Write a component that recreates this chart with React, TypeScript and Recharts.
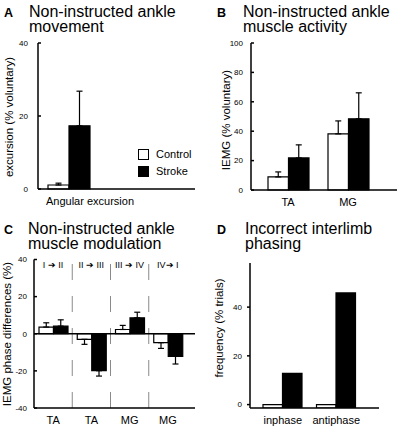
import React from "react";
import {
  Bar,
  BarChart,
  ErrorBar,
  Legend,
  Rectangle,
  ReferenceArea,
  ReferenceLine,
  XAxis,
  YAxis,
} from "recharts";

const FONT = '"Liberation Sans", Arial, Helvetica, sans-serif';
const INK = "#000";

// A: non-instructed ankle movement (% voluntary)
const excursionCategories = ["Angular excursion"];
const excursionControl = [1.1];
const excursionControlErr = [0.5];
const excursionStroke = [17.3];
const excursionStrokeErr = [9.5];
const excursionTicks = [0, 20, 40];

// B: non-instructed ankle muscle activity (IEMG % voluntary)
const activityCategories = ["TA", "MG"];
const activityControl = [8.9, 38.2];
const activityControlErr = [3.4, 8.8];
const activityStroke = [21.8, 48.4];
const activityStrokeErr = [8.9, 17.7];
const activityTicks = [0, 20, 40, 60, 80, 100];

// C: muscle modulation, IEMG phase differences (%)
const modulationMuscles = ["TA", "TA", "MG", "MG"];
const modulationPhases = ["I ➔ II", "II ➔ III", "III ➔ IV", "IV➔ I"];
const modulationControl = [3.6, -3.0, 2.3, -4.8];
const modulationControlErr = [2.3, 2.7, 2.2, 3.1];
const modulationStroke = [4.1, -19.9, 8.6, -12.2];
const modulationStrokeErr = [3.4, 2.9, 3.0, 4.1];
const modulationTicks = [-40, -20, 0, 20, 40];

// D: incorrect interlimb phasing, frequency (% trials)
const phasingCategories = ["inphase", "antiphase"];
const phasingControl = [0, 0];
const phasingStroke = [12.8, 45.8];
const phasingTicks = [0, 20, 40];
const phasingDomain = [-1.4, 58.1];

// error bars only point away from zero
const oneSided = (v: number, e: number) => (v >= 0 ? [0, e] : [e, 0]);

const excursionData = excursionCategories.map((name, i) => ({
  name,
  control: excursionControl[i],
  controlErr: oneSided(excursionControl[i], excursionControlErr[i]),
  stroke: excursionStroke[i],
  strokeErr: oneSided(excursionStroke[i], excursionStrokeErr[i]),
}));

const activityData = activityCategories.map((name, i) => ({
  name,
  control: activityControl[i],
  controlErr: oneSided(activityControl[i], activityControlErr[i]),
  stroke: activityStroke[i],
  strokeErr: oneSided(activityStroke[i], activityStrokeErr[i]),
}));

const modulationData = modulationMuscles.map((muscle, i) => ({
  key: `c${i}`,
  muscle,
  control: modulationControl[i],
  controlErr: oneSided(modulationControl[i], modulationControlErr[i]),
  stroke: modulationStroke[i],
  strokeErr: oneSided(modulationStroke[i], modulationStrokeErr[i]),
}));

// bars in D rise from the bottom of the axis, not from zero
const phasingData = phasingCategories.map((name, i) => ({
  name,
  control: [phasingDomain[0], phasingControl[i]],
  stroke: [phasingDomain[0], phasingStroke[i]],
}));

const axisLine = { stroke: INK, strokeWidth: 1.5 };
const yTick = { fontSize: 8, fill: INK };
const xTick = { fontSize: 11, fill: INK };

function GroupLegend({ payload }: { payload?: any[] }) {
  return (
    <div style={{ fontFamily: FONT, fontSize: 11, color: INK }}>
      {(payload || []).map((entry) => (
        <div key={entry.value} style={{ display: "flex", alignItems: "center", height: 16, marginBottom: 1 }}>
          <span
            style={{
              width: 9,
              height: 9,
              border: `1.2px solid ${INK}`,
              background: entry.color,
              marginRight: 7,
            }}
          />
          <span>{entry.value}</span>
        </div>
      ))}
    </div>
  );
}

const outlined = (fill: string) => (p: any) => (
  <Rectangle x={p.x} y={p.y} width={p.width} height={p.height} fill={fill} stroke={INK} strokeWidth={1.2} />
);

function Bars({ size, errors = true }: { size: number; errors?: boolean }) {
  return [
    <Bar key="c" dataKey="control" name="Control" fill="#fff" barSize={size} shape={outlined("#fff")} isAnimationActive={false}>
      {errors && <ErrorBar dataKey="controlErr" width={3} stroke={INK} strokeWidth={1.2} />}
    </Bar>,
    <Bar key="s" dataKey="stroke" name="Stroke" fill={INK} barSize={size} shape={outlined(INK)} isAnimationActive={false}>
      {errors && <ErrorBar dataKey="strokeErr" width={3} stroke={INK} strokeWidth={1.2} />}
    </Bar>,
  ];
}

function Titles() {
  const big = { fontSize: 16, fill: INK };
  const letter = { fontSize: 12.5, fontWeight: 700, fill: INK };
  const ylab = { fontSize: 11.5, fill: INK, textAnchor: "middle" as const, dominantBaseline: "central" as const };
  return (
    <svg width={401} height={426} style={{ position: "absolute", left: 0, top: 0, pointerEvents: "none", fontFamily: FONT }}>
      <text x={4} y={17} {...letter}>A</text>
      <text x={29} y={17} {...big}>Non-instructed ankle</text>
      <text x={29} y={32} {...big}>movement</text>
      <text x={217} y={17} {...letter}>B</text>
      <text x={243} y={17} {...big}>Non-instructed ankle</text>
      <text x={243} y={32} {...big}>muscle activity</text>
      <text x={4} y={234} {...letter}>C</text>
      <text x={28} y={234} {...big}>Non-instructed ankle</text>
      <text x={28} y={249} {...big}>muscle modulation</text>
      <text x={217} y={234} {...letter}>D</text>
      <text x={245} y={234} {...big}>Incorrect interlimb</text>
      <text x={245} y={249} {...big}>phasing</text>

      <text transform="translate(9,117) rotate(-90)" {...ylab}>excursion (% voluntary)</text>
      <text transform="translate(226,120) rotate(-90)" {...ylab}>IEMG (% voluntary)</text>
      <text transform="translate(7,334) rotate(-90)" {...ylab}>IEMG phase differences (%)</text>
      <text transform="translate(219,328) rotate(-90)" {...ylab}>frequency (% trials)</text>
    </svg>
  );
}

export default function App() {
  return (
    <div style={{ position: "absolute", left: 0, top: 0, width: 401, height: 426, background: "#fff", fontFamily: FONT }}>
      <div style={{ position: "absolute", left: 0, top: 0 }}>
        <BarChart width={200} height={210} data={excursionData} barGap={0} margin={{ top: 43, right: 5, bottom: 0, left: 0 }}>
          <XAxis dataKey="name" height={21} axisLine={axisLine} tickLine={false} tick={{ ...xTick, dx: 21 }} padding={{ left: 5, right: 100 }} />
          <YAxis width={38} domain={[0, 40]} ticks={excursionTicks} axisLine={axisLine} tickLine={axisLine} tickSize={-3} tickMargin={13} tick={yTick} />
          {Bars({ size: 21 })}
          <Legend layout="vertical" align="center" verticalAlign="middle" content={<GroupLegend />} wrapperStyle={{ left: 138, top: 146, width: 62 }} />
        </BarChart>
      </div>

      <div style={{ position: "absolute", left: 200, top: 0 }}>
        <BarChart width={201} height={210} data={activityData} barGap={0} margin={{ top: 43, right: 4, bottom: 0, left: 0 }}>
          <XAxis dataKey="name" height={20} axisLine={axisLine} tickLine={false} tick={xTick} padding={{ left: 7, right: 19 }} />
          <YAxis width={51} domain={[0, 100]} ticks={activityTicks} axisLine={axisLine} tickLine={axisLine} tickSize={-3} tickMargin={11} tick={yTick} />
          {Bars({ size: 20.5 })}
        </BarChart>
      </div>

      <div style={{ position: "absolute", left: 0, top: 210 }}>
        <BarChart width={200} height={216} data={modulationData} barGap={0} margin={{ top: 49.5, right: 5, bottom: 0, left: 0 }}>
          <XAxis dataKey="key" height={18} axisLine={axisLine} tickLine={false} tick={xTick} padding={{ left: 0, right: 8 }} tickFormatter={(_v, i) => modulationMuscles[i]} />
          <YAxis width={34} domain={[-40, 40]} ticks={modulationTicks} axisLine={axisLine} tickLine={axisLine} tickSize={-3} tickMargin={10} tick={yTick} />
          {modulationData.slice(0, -1).map((d) => (
            <ReferenceLine key={`sep-${d.key}`} x={d.key} position="end" stroke="#8a8a8a" strokeWidth={1} strokeDasharray="16 16" />
          ))}
          {modulationData.map((d, i) => (
            <ReferenceArea
              key={`phase-${d.key}`}
              x1={d.key}
              x2={d.key}
              fill="none"
              stroke="none"
              label={{ value: modulationPhases[i], position: "insideTop", offset: 2, fontSize: 9, fill: INK }}
            />
          ))}
          <ReferenceLine y={0} stroke={INK} strokeWidth={1.5} />
          {Bars({ size: 14.5 })}
        </BarChart>
      </div>

      <div style={{ position: "absolute", left: 200, top: 210 }}>
        <BarChart width={201} height={216} data={phasingData} barGap={0} margin={{ top: 53, right: 22, bottom: 0, left: 0 }}>
          <XAxis dataKey="name" height={18} axisLine={axisLine} tickLine={false} tick={xTick} padding={{ left: 6, right: 16 }} />
          <YAxis width={50} type="number" domain={phasingDomain} ticks={phasingTicks} allowDataOverflow axisLine={axisLine} tickLine={axisLine} tickSize={3} tickMargin={5} tick={yTick} />
          {Bars({ size: 19.5, errors: false })}
        </BarChart>
      </div>

      <Titles />
    </div>
  );
}
